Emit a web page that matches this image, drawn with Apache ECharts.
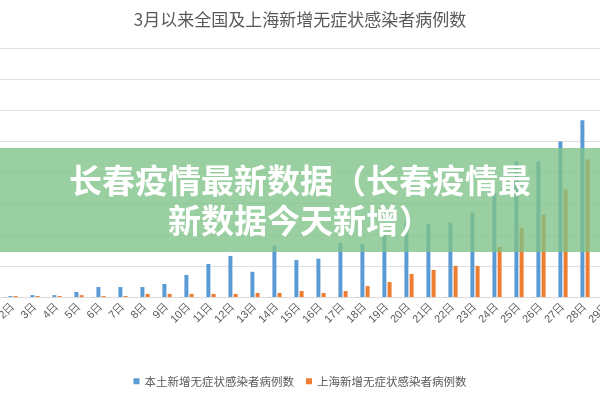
<!DOCTYPE html><html><head><meta charset="utf-8"><script src="https://cdn.jsdelivr.net/npm/echarts@6/dist/echarts.min.js"></script>
<style>html,body{margin:0;background:#fff}#c{width:600px;height:400px}</style></head><body><div id="c"></div><script>
const days=['1日','2日','3日','4日','5日','6日','7日','8日','9日','10日','11日','12日','13日','14日','15日','16日','17日','18日','19日','20日','21日','22日','23日','24日','25日','26日','27日','28日','29日'];
const mainland=[30,30,60,60,160,320,320,320,420,710,1060,1320,810,1650,1190,1230,1740,1710,2060,2390,2350,2390,2710,3350,4350,4350,5000,5680,6000];
const shanghai=[30,30,30,30,60,30,30,100,100,100,100,100,130,130,190,130,190,350,480,740,870,1000,1000,1610,2230,2650,3450,4420,4800];
const c=echarts.init(document.getElementById('c'));
c.setOption({
 animation:false,
 title:{text:'3月以来全国及上海新增无症状感染者病例数',left:'center',top:6,textStyle:{fontFamily:'Noto Sans CJK SC',fontSize:17,fontWeight:'normal',color:'#595959'}},
 grid:{left:-20,right:-18,top:48,bottom:103,outerBoundsMode:'none',containLabel:false},
 legend:{bottom:8,itemWidth:6,itemHeight:6,itemGap:12,icon:'rect',textStyle:{fontFamily:'Noto Sans CJK SC',fontSize:11.5,color:'#595959'}},
 xAxis:{type:'category',data:days,axisTick:{show:false},axisLine:{lineStyle:{color:'#d9d9d9'}},axisLabel:{rotate:45,fontSize:11,color:'#595959',interval:0,margin:8}},
 yAxis:{type:'value',min:0,max:8000,interval:1000,axisLabel:{show:false},splitLine:{lineStyle:{color:'#e0e0e0'}}},
 series:[
  {name:'本土新增无症状感染者病例数',type:'bar',data:mainland,barWidth:4,barGap:'30%',itemStyle:{color:'#5b9bd5'}},
  {name:'上海新增无症状感染者病例数',type:'bar',data:shanghai,barWidth:4,itemStyle:{color:'#ed7d31'}}
 ],
 graphic:[
  {type:'rect',z:100,shape:{x:0,y:148,width:600,height:104},style:{fill:'rgba(125,195,135,0.78)'}},
  {type:'text',z:101,left:'center',top:160,style:{text:'长春疫情最新数据（长春疫情最\n新数据今天新增）',fill:'#fff',font:'bold 33px "Noto Sans CJK SC"',textAlign:'center',lineHeight:40}}
 ]
});
</script></body></html>
